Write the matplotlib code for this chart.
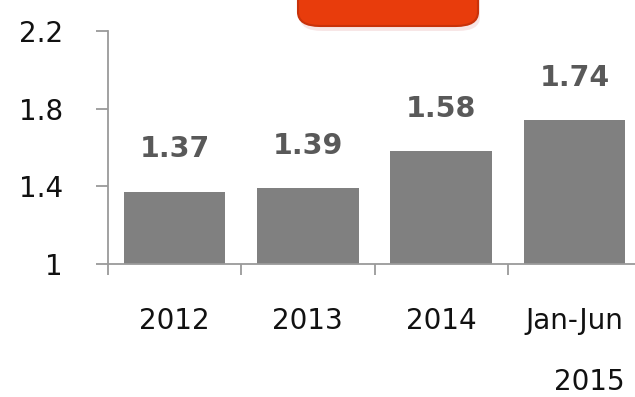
import matplotlib.pyplot as plt
from matplotlib.patches import FancyBboxPatch


# datos del grafico
categorias = ["2012", "2013", "2014", "Jan-Jun"]
valores = [1.37, 1.39, 1.58, 1.74]
etiquetas = ["1.37", "1.39", "1.58", "1.74"]
ticks_y = [1, 1.4, 1.8, 2.2]
etiquetas_y = ["1", "1.4", "1.8", "2.2"]

color_barra = "#808080"
color_eje = "#9a9a9a"

fig = plt.figure(figsize=(6.35, 3.97), dpi=100)
ax = fig.add_axes([108 / 635, 133 / 397, 533 / 635, 233 / 397])

posiciones = range(len(categorias))
ax.bar(posiciones, [v - 1 for v in valores], bottom=1, width=0.76, color=color_barra)

for x, v, txt in zip(posiciones, valores, etiquetas):
    ax.annotate(txt, xy=(x, v), xytext=(0, 25), textcoords="offset points",
                ha="center", va="baseline", fontsize=20.5, fontweight="bold",
                color="#595959")

ax.set_xlim(-0.5, 3.5)
ax.set_ylim(1, 2.2)

# ejes
for lado in ["top", "right"]:
    ax.spines[lado].set_visible(False)
for lado in ["left", "bottom"]:
    ax.spines[lado].set_color(color_eje)
    ax.spines[lado].set_linewidth(1.3)

ax.set_yticks(ticks_y)
ax.set_yticklabels(etiquetas_y)
ax.tick_params(axis="y", direction="out", length=8.6, width=1.3, color=color_eje,
               pad=24, labelsize=20, labelcolor="#111111")

ax.set_xticks([-0.5, 0.5, 1.5, 2.5, 3.5])
ax.set_xticklabels([])
ax.tick_params(axis="x", which="major", direction="out", length=8, width=1.3,
               color=color_eje)
ax.set_xticks(list(posiciones), minor=True)
ax.set_xticklabels(categorias, minor=True)
ax.tick_params(axis="x", which="minor", length=0, pad=31, labelsize=20,
               labelcolor="#111111")

ax.annotate("2015", xy=(3.11, 0), xycoords=("data", "axes fraction"),
            xytext=(0, -91), textcoords="offset points", ha="center",
            va="baseline", fontsize=20, color="#111111", annotation_clip=False)

# recuadro rojo arriba
sombra = FancyBboxPatch((300 / 635, 1 - 31 / 397), 180 / 635, 0.2,
                        boxstyle="round,pad=0,rounding_size=0.035",
                        transform=fig.transFigure, facecolor="#f3d6d6",
                        edgecolor="none", alpha=0.6, zorder=1)
fig.patches.append(sombra)
caja = FancyBboxPatch((298 / 635, 1 - 26 / 397), 180 / 635, 0.2,
                      boxstyle="round,pad=0,rounding_size=0.035",
                      transform=fig.transFigure, facecolor="#e83c0c",
                      edgecolor="#c8320a", linewidth=1.5, zorder=2)
fig.patches.append(caja)

fig.savefig("out.png", dpi=100)
